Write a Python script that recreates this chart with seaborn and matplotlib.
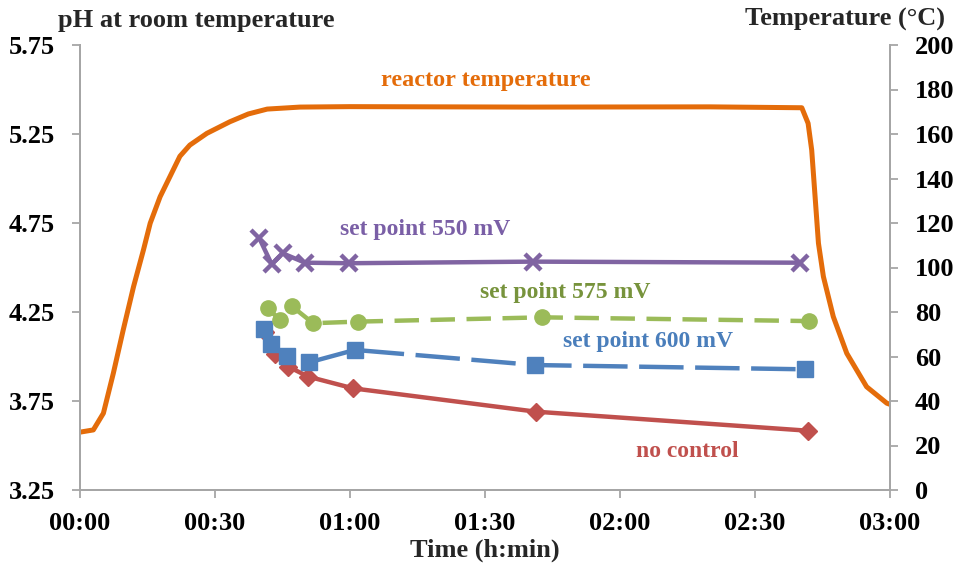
import matplotlib
matplotlib.use("Agg")
import matplotlib.pyplot as plt
import seaborn as sns
import pandas as pd

# ---------------- data (time in minutes) ----------------
temp_time = [0, 2.96, 5.2, 7.4, 9.6, 11.9, 14.1, 15.6, 17.8, 20.7, 22.2, 24.4,
             28.2, 33.3, 37.4, 41.6, 48.9, 60, 100, 140, 160.4, 161.8, 162.6,
             163.3, 164.1, 165.2, 167.4, 170.4, 174.8, 179.3, 180]
temp_vals = [26, 27, 34.5, 52.4, 71.9, 91.4, 107.9, 119.9, 131.8, 143.8, 150,
             155, 160.3, 165.5, 169, 171.2, 172.1, 172.3, 172.1, 172.2, 171.8,
             164.8, 152.8, 133.3, 110.9, 95.9, 77.9, 61.4, 46.4, 39, 38.5]

sp550_time = [39.8, 42.6, 45.0, 50.0, 59.8, 100.7, 160.0]
sp550_ph = [4.667, 4.518, 4.580, 4.527, 4.524, 4.533, 4.527]

sp575_time = [41.8, 44.4, 47.0, 51.8, 61.8, 102.7, 162.1]
sp575_ph = [4.271, 4.205, 4.284, 4.187, 4.196, 4.220, 4.199]

sp600_time = [40.9, 42.4, 45.9, 50.9, 61.1, 101.1, 161.1]
sp600_ph = [4.154, 4.069, 4.003, 3.967, 4.037, 3.952, 3.928]

noctl_time = [41.0, 43.3, 46.3, 50.7, 60.7, 101.3, 161.8]
noctl_ph = [4.140, 4.012, 3.943, 3.887, 3.821, 3.690, 3.583]

x_ticks = [0, 30, 60, 90, 120, 150, 180]
x_labels = ["00:00", "00:30", "01:00", "01:30", "02:00", "02:30", "03:00"]
ph_ticks = [3.25, 3.75, 4.25, 4.75, 5.25, 5.75]
temp_ticks = list(range(0, 201, 20))

# ---------------- style ----------------
sns.set_style("white")
plt.rcParams["font.family"] = ["Liberation Serif", "DejaVu Serif"]
plt.rcParams["font.weight"] = "bold"

C_ORANGE = "#E46C0A"
C_PURPLE = "#8064A2"
C_GREEN = "#9BBB59"
C_BLUE = "#4F81BD"
C_RED = "#C0504D"
C_AXIS = "#A6A6A6"

fig = plt.figure(figsize=(9.6, 5.68), dpi=100)
ax = fig.add_axes([80 / 960, 78 / 568, 810 / 960, 445 / 568])
ax2 = ax.twinx()

def series(t, v, color, marker, ms, dashes=None, mew=1.0):
    df = pd.DataFrame({"t": t, "v": v})
    sns.lineplot(data=df, x="t", y="v", ax=ax, color=color, lw=3.2,
                 marker=marker, markersize=ms, markeredgecolor=color,
                 markerfacecolor=color, markeredgewidth=mew,
                 errorbar=None, sort=False)
    line = ax.lines[-1]
    line.set_solid_joinstyle("round")
    if dashes is not None:
        line.set_dashes(dashes)

series(noctl_time, noctl_ph, C_RED, "D", 9)
series(sp600_time, sp600_ph, C_BLUE, "s", 11, dashes=(10, 2.6))
series(sp575_time, sp575_ph, C_GREEN, "o", 11, dashes=(5.5, 2.6))
series(sp550_time, sp550_ph, C_PURPLE, "x", 11, mew=3.2)

tdf = pd.DataFrame({"t": temp_time, "T": temp_vals})
sns.lineplot(data=tdf, x="t", y="T", ax=ax2, color=C_ORANGE, lw=3.6,
             errorbar=None, sort=False)
ax2.lines[-1].set_solid_joinstyle("round")
ax2.lines[-1].set_solid_capstyle("round")

# ---------------- axes ----------------
ax.set_xlim(0, 180)
ax.set_ylim(3.25, 5.75)
ax2.set_ylim(0, 200)
ax.set_xticks(x_ticks)
ax.set_xticklabels(x_labels)
ax.set_yticks(ph_ticks)
ax.set_yticklabels([f"{v:.2f}" for v in ph_ticks])
ax2.set_yticks(temp_ticks)
ax2.set_yticklabels([str(v) for v in temp_ticks])
ax.set_xlabel("")
ax.set_ylabel("")
ax2.set_ylabel("")

for a in (ax, ax2):
    for s in a.spines.values():
        s.set_color(C_AXIS)
        s.set_linewidth(1.4)
    a.spines["top"].set_visible(False)
    a.grid(False)

ax.tick_params(axis="both", direction="out", length=6, width=1.3,
               color=C_AXIS, labelsize=19, labelcolor="black")
ax.tick_params(axis="y", pad=12, left=True)
ax.tick_params(axis="x", pad=10, bottom=True)
ax2.tick_params(axis="y", direction="out", length=6, width=1.3, right=True,
                color=C_AXIS, labelsize=19, labelcolor="black", pad=12)
for lab in ax.get_xticklabels() + ax.get_yticklabels() + ax2.get_yticklabels():
    lab.set_fontweight("bold")

# ---------------- texts ----------------
fig.text(58 / 960, 1 - 20 / 568, "pH at room temperature", fontsize=19,
         fontweight="bold", ha="left", va="center")
fig.text(945 / 960, 1 - 19 / 568, "Temperature (\u00b0C)", fontsize=19,
         fontweight="bold", ha="right", va="center")
fig.text(485 / 960, 1 - 550 / 568, "Time (h:min)", fontsize=19,
         fontweight="bold", ha="center", va="center")

ax.text(90.2, 5.553, "reactor temperature", color=C_ORANGE, fontsize=17.5,
        fontweight="bold", ha="center", va="center")
ax.text(76.7, 4.716, "set point 550 mV", color="#7A5FA6", fontsize=17,
        fontweight="bold", ha="center", va="center")
ax.text(107.8, 4.357, "set point 575 mV", color="#77933C", fontsize=17,
        fontweight="bold", ha="center", va="center")
ax.text(126.2, 4.087, "set point 600 mV", color="#4A7EBB", fontsize=17,
        fontweight="bold", ha="center", va="center")
ax.text(134.9, 3.469, "no control", color=C_RED, fontsize=17,
        fontweight="bold", ha="center", va="center")

fig.savefig("out.png", dpi=100)
